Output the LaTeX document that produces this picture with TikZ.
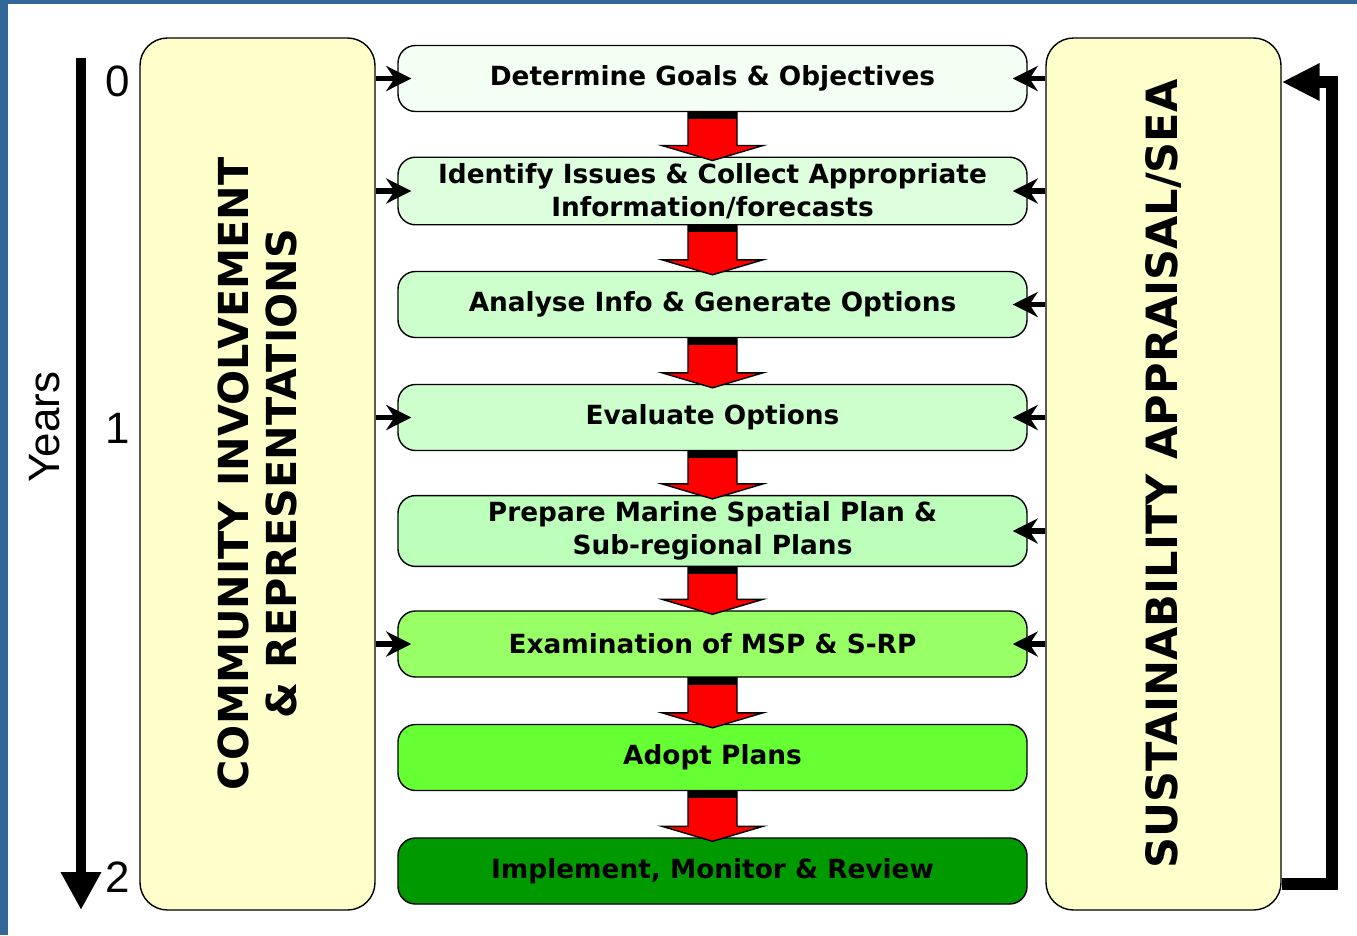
\documentclass[tikz,border=0pt]{standalone}
\usepackage{fontspec}
\usepackage{tikz}
\usetikzlibrary{positioning, arrows.meta, shapes.geometric}
\newfontfamily\stagefont{DejaVu Sans}
\newfontfamily\yearfont{Liberation Sans}
\definecolor{frameblue}{HTML}{336699}
\definecolor{paleyellow}{HTML}{FFFFCC}
\definecolor{gA}{HTML}{F2FFF2}
\definecolor{gB}{HTML}{DDFFDD}
\definecolor{gC}{HTML}{CCFFCC}
\definecolor{gD}{HTML}{CCFFCC}
\definecolor{gE}{HTML}{BBFFBB}
\definecolor{gF}{HTML}{99FF66}
\definecolor{gG}{HTML}{66FF33}
\definecolor{gH}{HTML}{009900}

\begin{document}
\begin{tikzpicture}[
    every node/.style={align=center},
    stage/.style={rectangle, rounded corners=3.5mm, draw=black, line width=0.8pt, minimum width=12.58cm, minimum height=1.32cm, font=\stagefont\bfseries\fontsize{15}{19}\selectfont},
    side/.style={rectangle, rounded corners=5.5mm, draw=black, line width=0.8pt, fill=paleyellow, rotate=90, minimum width=17.44cm, minimum height=4.7cm, font=\stagefont\bfseries\fontsize{23.5}{27}\selectfont},
    link/.style={-{Stealth[length=5mm, width=5mm]}, line width=3.2pt},
    flow/.style={draw=black, fill=red, line width=0.8pt},
    years/.style={-{Triangle[length=7.6mm, width=7.6mm]}, line width=5.6pt},
    feedback/.style={-{Triangle[length=7.6mm, width=7mm]}, line width=6.6pt},
    tick/.style={font=\yearfont\fontsize{25}{30}\selectfont}
]
\useasboundingbox (0,0) rectangle (27.14,-18.70);
\fill[white] (0,0) rectangle (27.14,-18.70);

% --- Marco azul
\fill[frameblue] (0,0) rectangle (0.16,-18.70);
\fill[frameblue] (0,0) rectangle (27.14,-0.08);

% --- Columnas laterales (giradas: south = borde derecho, north = borde izquierdo)
\node[side] (comm) at (5.15,-9.48) {COMMUNITY INVOLVEMENT\\\& REPRESENTATIONS};
\node[side, font=\stagefont\bfseries\fontsize{24.5}{28}\selectfont] (sea) at (23.27,-9.48) {SUSTAINABILITY APPRAISAL/SEA};

% --- Etapas
\node[stage, fill=gA] (g1) at (14.25,-1.57) {Determine Goals \& Objectives};
\node[stage, fill=gB] (g2) at (14.25,-3.82) {Identify Issues \& Collect Appropriate\\Information/forecasts};
\node[stage, fill=gC] (g3) at (14.25,-6.09) {Analyse Info \& Generate Options};
\node[stage, fill=gD] (g4) at (14.25,-8.35) {Evaluate Options};
\node[stage, fill=gE] (g5) at (14.25,-10.62) {Prepare Marine Spatial Plan \&\\Sub-regional Plans};
\node[stage, fill=gF] (g6) at (14.25,-12.88) {Examination of MSP \& S-RP};
\node[stage, fill=gG] (g7) at (14.25,-15.15) {Adopt Plans};
\node[stage, fill=gH] (g8) at (14.25,-17.42) {Implement, Monitor \& Review};

% --- Flechas rojas entre etapas
\foreach \a/\b in {g1/g2, g2/g3, g3/g4, g4/g5, g5/g6, g6/g7, g7/g8} {
  \draw[flow] ([xshift=-0.49cm]\a.south) -- ([xshift=-0.49cm, yshift=0.22cm]\b.north) -- ([xshift=-1.01cm, yshift=0.22cm]\b.north) -- ([yshift=-0.08cm]\b.north) -- ([xshift=1.01cm, yshift=0.22cm]\b.north) -- ([xshift=0.49cm, yshift=0.22cm]\b.north) -- ([xshift=0.49cm]\a.south) -- cycle;
  \fill ([xshift=-0.49cm]\a.south) rectangle ([xshift=0.49cm, yshift=-0.14cm]\a.south);
}

% --- Flechas laterales
\foreach \s in {g1, g2, g4, g6}
  \draw[link] (comm.south |- \s) -- ([xshift=0.28cm]\s.west);
\foreach \s in {g1, g2, g3, g4, g5, g6}
  \draw[link] (sea.north |- \s) -- ([xshift=-0.30cm]\s.east);

% --- Eje de años
\coordinate (t0) at (1.62,-1.16);
\coordinate (t2) at (1.62,-18.20);
\draw[years] (t0) -- (t2);
\node[tick, rotate=90] (yrs) at (0.90,-8.54) {Years};
\node[tick] (y0) at (2.36,-1.62) {0};
\node[tick] (y1) at (2.35,-8.56) {1};
\node[tick] (y2) at (2.36,-17.54) {2};

% Flecha de retorno
\draw[feedback] ([yshift=-8.20cm]sea.south) -- ++(1.0,0) |- ([yshift=7.84cm]sea.south);

\end{tikzpicture}
\end{document}
